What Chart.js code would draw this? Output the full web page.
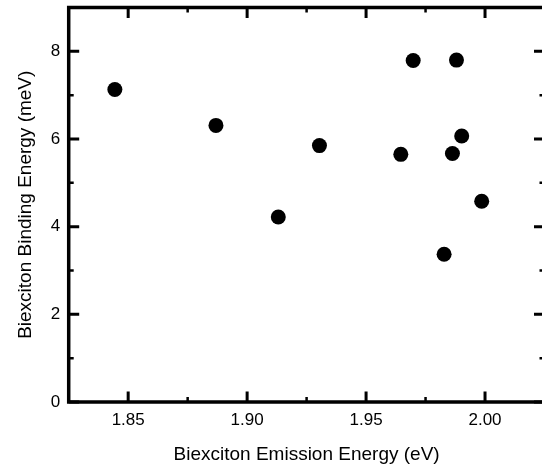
<!DOCTYPE html>
<html><head><meta charset="utf-8">
<script src="https://cdn.jsdelivr.net/npm/chart.js@4/dist/chart.umd.min.js"></script>
<style>
html,body{margin:0;padding:0;overflow:hidden;background:#fff;width:542px;height:472px}
#wrap{width:552px;height:472px;position:relative}
</style></head>
<body><div id="wrap"><canvas id="c"></canvas></div>
<script>
// Data
const emissionEnergy = [1.8444, 1.8869, 1.9131, 1.9304, 1.9646, 1.9698, 1.9828, 1.9863, 1.9880, 1.9902, 1.9986];
const bindingEnergy  = [7.13,   6.31,   4.22,   5.85,   5.65,   7.79,   3.37,   5.67,   7.80,   6.07,   4.58];
const xTickValues = [1.85, 1.90, 1.95, 2.00];
const xMinorTickValues = [1.875, 1.925, 1.975];
const yTickValues = [0, 2, 4, 6, 8];
const yMinorTickValues = [1, 3, 5, 7];
const xTitle = 'Biexciton Emission Energy (eV)';
const yTitle = 'Biexciton Binding Energy (meV)';

const points = emissionEnergy.map((x, i) => ({x: x, y: bindingEnergy[i]}));
const FONT = '"Liberation Sans", Arial, Helvetica, sans-serif';

const framePlugin = {
  id: 'frame',
  afterDatasetsDraw(chart) {
    const {ctx, chartArea: a, scales: {x, y}} = chart;
    ctx.save();
    ctx.strokeStyle = '#000';
    ctx.lineCap = 'butt';
    const MAJ = 10.5, MIN = 5;
    function vt(v, len, w) {
      const p = x.getPixelForValue(v);
      ctx.lineWidth = w;
      ctx.beginPath();
      ctx.moveTo(p, a.bottom); ctx.lineTo(p, a.bottom - len);
      ctx.moveTo(p, a.top); ctx.lineTo(p, a.top + len);
      ctx.stroke();
    }
    function ht(v, len, w) {
      const p = y.getPixelForValue(v);
      ctx.lineWidth = w;
      ctx.beginPath();
      ctx.moveTo(a.left, p); ctx.lineTo(a.left + len, p);
      ctx.moveTo(a.right, p); ctx.lineTo(a.right - len, p);
      ctx.stroke();
    }
    xTickValues.forEach(v => vt(v, MAJ, 3));
    xMinorTickValues.forEach(v => vt(v, MIN, 2.5));
    yTickValues.forEach(v => ht(v, MAJ, 3));
    yMinorTickValues.forEach(v => ht(v, MIN, 2.5));
    ctx.lineWidth = 3.5;
    ctx.strokeRect(a.left, a.top, a.right - a.left, a.bottom - a.top);
    ctx.restore();
  }
};

new Chart(document.getElementById('c'), {
  type: 'scatter',
  data: {
    datasets: [{
      data: points,
      backgroundColor: '#000',
      borderWidth: 0,
      pointRadius: 7.5,
      pointHoverRadius: 7.5
    }]
  },
  options: {
    responsive: true,
    maintainAspectRatio: false,
    animation: false,
    devicePixelRatio: 1,
    layout: {padding: {left: 0, right: 5.7, top: 7.5, bottom: 0}},
    plugins: {legend: {display: false}, tooltip: {enabled: false}},
    scales: {
      x: {
        type: 'linear',
        min: 1.825, max: 2.025,
        afterBuildTicks: s => { s.ticks = xTickValues.map(v => ({value: v})); },
        afterFit: s => { s.height = 70; s.paddingLeft = 0; s.paddingRight = 0; },
        grid: {display: false, drawTicks: false},
        border: {display: false},
        ticks: {
          color: '#000', padding: 8, maxRotation: 0, autoSkip: false,
          font: {family: FONT, size: 17},
          callback: v => Number(v).toFixed(2)
        },
        title: {display: true, text: xTitle, color: '#000',
          font: {family: FONT, size: 19}, padding: {top: 0, bottom: 5.6}}
      },
      y: {
        type: 'linear',
        min: 0, max: 9,
        afterBuildTicks: s => { s.ticks = yTickValues.map(v => ({value: v})); },
        afterFit: s => { s.width = 68.7; s.paddingTop = 0; s.paddingBottom = 0; },
        grid: {display: false, drawTicks: false},
        border: {display: false},
        ticks: {
          color: '#000', padding: 8.5, autoSkip: false,
          font: {family: FONT, size: 17},
          callback: v => String(v)
        },
        title: {display: true, text: yTitle, color: '#000',
          font: {family: FONT, size: 19}, padding: {top: 14.1, bottom: 0}}
      }
    }
  },
  plugins: [framePlugin]
});
</script>
</body></html>
